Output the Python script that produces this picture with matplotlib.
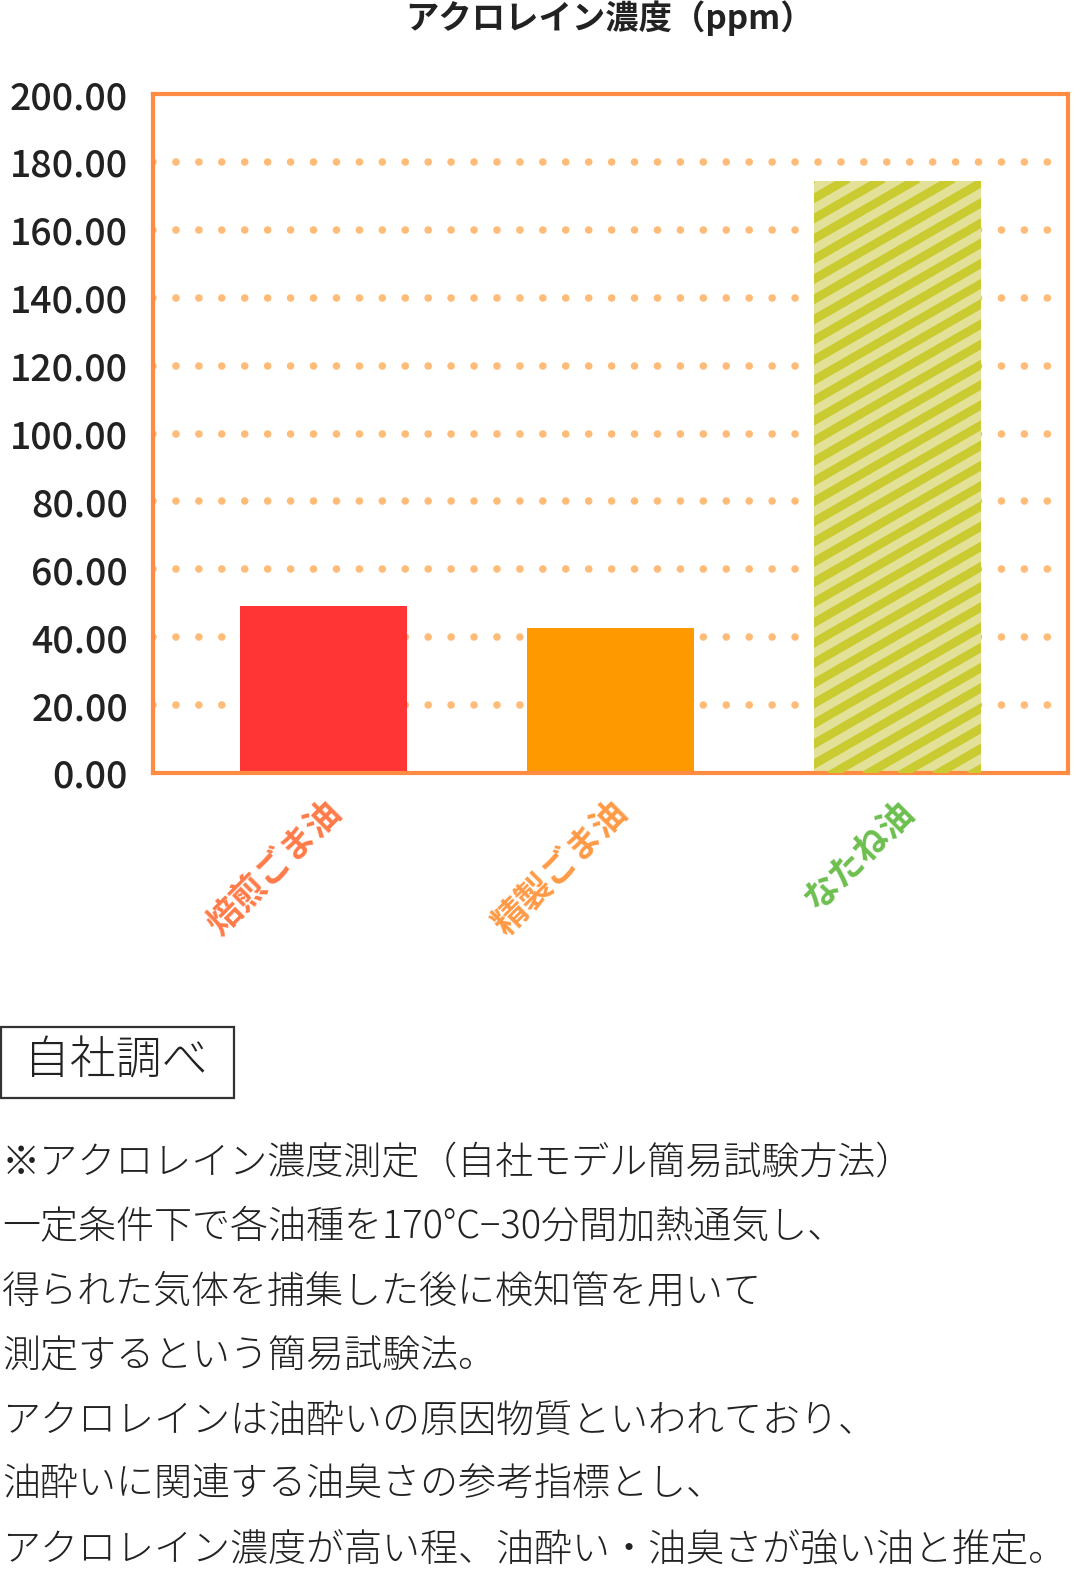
import numpy as np
import matplotlib
matplotlib.use("Agg")
import matplotlib.pyplot as plt
from matplotlib.patches import Rectangle
from matplotlib.transforms import IdentityTransform

plt.rcParams['font.family'] = ['Noto Sans CJK JP', 'DejaVu Sans']
plt.rcParams['lines.scale_dashes'] = False

# data
categories = ['焙煎ごま油', '精製ごま油', 'なたね油']
values = [49.2, 42.7, 174.4]
yticks = [0, 20, 40, 60, 80, 100, 120, 140, 160, 180, 200]

bar_colors = ['#FF3535', '#FF9900', '#E3E198']
label_colors = ['#FF7A48', '#FF9A45', '#6CBF4F']
stripe_color = '#C9CB30'
orange = '#FF8C42'
dot_color = '#FFBC78'
ink = '#222222'

title = 'アクロレイン濃度（ppm）'
source = '自社調べ'
notes = [
    '※アクロレイン濃度測定（自社モデル簡易試験方法）',
    '一定条件下で各油種を170°C−30分間加熱通気し、',
    '得られた気体を捕集した後に検知管を用いて',
    '測定するという簡易試験法。',
    'アクロレインは油酔いの原因物質といわれており、',
    '油酔いに関連する油臭さの参考指標とし、',
    'アクロレイン濃度が高い程、油酔い・油臭さが強い油と推定。',
]

W, H = 1086, 1592
fig = plt.figure(figsize=(W / 100, H / 100), dpi=100)
ax = fig.add_axes([153 / W, 1 - 773 / H, (1068 - 153) / W, (773 - 94) / H])

x = np.arange(len(categories))
bars = ax.bar(x, values, width=0.58, color=bar_colors, zorder=2)
ax.set_xlim(-0.595, 2.595)
ax.set_ylim(0, 200)

# dotted grid
ax.set_yticks(yticks)
ax.set_yticklabels([f'{v:.2f}' for v in yticks], fontsize=27, color=ink,
                   fontweight='medium')
ax.tick_params(axis='y', length=0, pad=18)
ax.tick_params(axis='x', length=0, labelbottom=False)
for v in yticks[1:-1]:
    ax.axhline(v, color=dot_color, lw=5.5, dashes=(0.01, 16.5),
               dash_capstyle='round', zorder=1)

for s in ax.spines.values():
    s.set_color(orange)
    s.set_linewidth(3)

# diagonal stripes on the last bar
stripe_bar = bars[2]
bx0, by0 = ax.transData.transform((stripe_bar.get_x(), 0))
bx1, by1 = ax.transData.transform((stripe_bar.get_x() + stripe_bar.get_width(),
                                   stripe_bar.get_height()))
k = np.tan(np.radians(30))
run = (by1 - by0) / k
for c in np.arange(bx0 - run - 40, bx1 + 40, 35):
    ln = plt.Line2D([c, c + run], [by0, by1], transform=IdentityTransform(),
                    color=stripe_color, lw=6.3, zorder=2.1)
    ln.set_clip_path(stripe_bar)
    fig.add_artist(ln)

# rotated category labels
for i, (lab, col) in enumerate(zip(categories, label_colors)):
    ax.annotate(lab, xy=(i, 0), xycoords=('data', 'axes fraction'),
                xytext=(8, -24), textcoords='offset points',
                rotation=45, rotation_mode='anchor', ha='right', va='center',
                fontsize=25, fontweight='bold', color=col)

fig.text(610 / W, 1 - 18 / H, title, ha='center', va='center',
         fontsize=24, fontweight='bold', color=ink)

# source box
fig.add_artist(Rectangle((1 / W, 1 - 1098 / H), 233 / W, 71 / H,
                         transform=fig.transFigure, fill=False,
                         edgecolor='#333333', lw=1.6))
fig.text(24 / W, 1 - 1062 / H, source, ha='left', va='center',
         fontsize=33, color=ink, fontweight='light')

for j, line in enumerate(notes):
    fig.text(2 / W, 1 - (1163 + j * 64.5) / H, line, ha='left', va='center',
             fontsize=27.4, color=ink, fontweight='light')

fig.savefig('out.png', dpi=100)
